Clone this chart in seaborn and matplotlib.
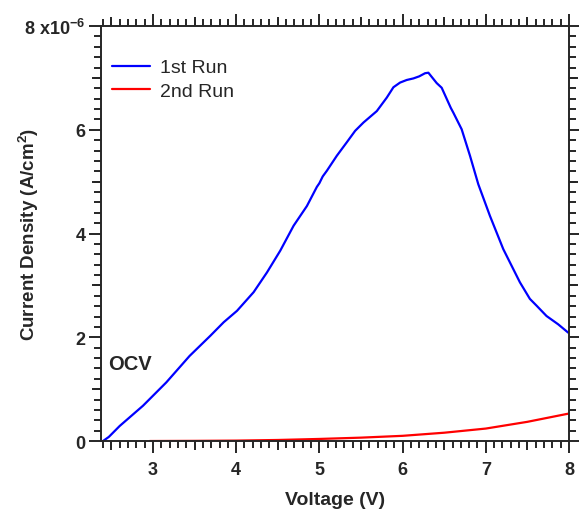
import numpy as np
import pandas as pd
import matplotlib
matplotlib.use("Agg")
import matplotlib.pyplot as plt
import seaborn as sns
from matplotlib.ticker import MultipleLocator, FixedLocator

# dados (corrente em unidades de 1e-6 A/cm2)
volt_run1 = [2.40, 2.47, 2.60, 2.88, 3.16, 3.44, 3.69, 3.85, 4.01, 4.21, 4.37,
             4.53, 4.69, 4.85, 4.97, 5.00, 5.04, 5.09, 5.21, 5.33, 5.43, 5.53,
             5.69, 5.81, 5.89, 5.97, 6.05, 6.13, 6.20, 6.27, 6.31, 6.41, 6.47,
             6.58, 6.61, 6.71, 6.81, 6.91, 7.05, 7.21, 7.41, 7.53, 7.61, 7.73,
             7.87, 7.99]
cur_run1 = [0.00, 0.08, 0.29, 0.68, 1.13, 1.64, 2.03, 2.29, 2.51, 2.87, 3.25,
            3.67, 4.15, 4.53, 4.90, 4.97, 5.10, 5.21, 5.50, 5.76, 5.98, 6.14,
            6.36, 6.62, 6.82, 6.91, 6.96, 6.99, 7.03, 7.09, 7.10, 6.90, 6.81,
            6.42, 6.33, 6.01, 5.50, 4.95, 4.34, 3.70, 3.06, 2.74, 2.61, 2.41,
            2.25, 2.09]

volt_run2 = [2.96, 3.5, 4.0, 4.5, 5.0, 5.5, 6.0, 6.5, 7.0, 7.5, 8.0]
cur_run2 = [0.0, 0.003, 0.008, 0.02, 0.04, 0.065, 0.10, 0.16, 0.24, 0.37, 0.53]

y_ticks = [0, 2, 4, 6, 8]
y_labels = ["0", "2", "4", "6", "8 x10$^{\\mathregular{-6}}$"]
x_ticks = [3, 4, 5, 6, 7, 8]

df1 = pd.DataFrame({"Voltage": volt_run1, "Current": cur_run1})
df2 = pd.DataFrame({"Voltage": volt_run2, "Current": cur_run2})

sns.set_style("ticks")
plt.rcParams["font.family"] = ["Liberation Sans", "DejaVu Sans"]
plt.rcParams["axes.linewidth"] = 1.4

fig = plt.figure(figsize=(5.79, 5.10), dpi=100)
ax = fig.add_axes([0.1744, 0.1333, 0.8083, 0.8137])

sns.lineplot(data=df1, x="Voltage", y="Current", color="#0000ff", lw=1.6,
             label="1st Run", ax=ax, sort=False)
sns.lineplot(data=df2, x="Voltage", y="Current", color="#ff0000", lw=1.6,
             label="2nd Run", ax=ax, sort=False)

ax.set_xlim(2.375, 8.0)
ax.set_ylim(0, 8)

ax.set_xticks(x_ticks)
ax.set_yticks(y_ticks)
ax.set_yticklabels(y_labels)
ax.xaxis.set_minor_locator(MultipleLocator(0.1))
ax.yaxis.set_minor_locator(MultipleLocator(0.2))
ax.tick_params(which="major", direction="out", length=8.6, width=1.4,
               top=True, right=True, labelsize=13)
ax.tick_params(which="minor", direction="out", length=5, width=1.4,
               top=True, right=True)
ax.tick_params(axis="x", which="major", pad=6)
ax.tick_params(axis="y", which="major", pad=2.5)
for lab in ax.get_xticklabels() + ax.get_yticklabels():
    lab.set_fontweight("bold")

# ticks intermediarios (0.5 em x, 1 em y)
for loc in ["bottom", "top"]:
    sec = ax.secondary_xaxis(loc)
    sec.xaxis.set_major_locator(FixedLocator([2.5, 3.5, 4.5, 5.5, 6.5, 7.5]))
    sec.tick_params(direction="out", length=6.5, width=1.4, labelbottom=False,
                    labeltop=False)
    sec.spines[loc].set_visible(False)
for loc in ["left", "right"]:
    sec = ax.secondary_yaxis(loc)
    sec.yaxis.set_major_locator(FixedLocator([1, 3, 5, 7]))
    sec.tick_params(direction="out", length=6.5, width=1.4, labelleft=False,
                    labelright=False)
    sec.spines[loc].set_visible(False)

ax.set_xlabel("Voltage (V)", fontsize=14, fontweight="bold")
ax.set_ylabel("Current Density (A/cm$^{\\mathregular{2}}$)", fontsize=13.5,
              fontweight="bold")
ax.xaxis.set_label_coords(0.5, -0.12)
ax.yaxis.set_label_coords(-0.128, 0.5)

ax.text(0.015, 0.186, "OCV", transform=ax.transAxes, fontsize=14.5,
        fontweight="bold", va="center", ha="left")

ax.legend(loc="upper left", frameon=False, fontsize=14, handlelength=1.95,
          handletextpad=0.5, borderaxespad=0.0, labelspacing=0.3,
          bbox_to_anchor=(0.008, 0.94))

fig.savefig("out.png", dpi=100)
